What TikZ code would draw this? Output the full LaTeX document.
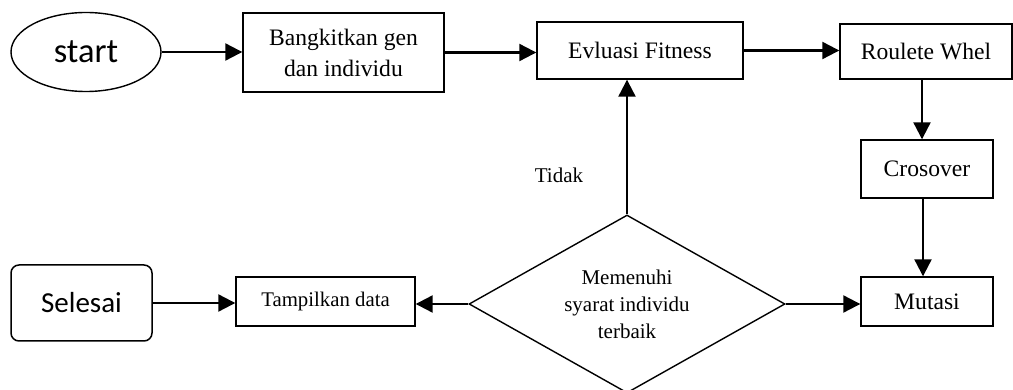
\documentclass[tikz,border=0pt]{standalone}
\usepackage{fontspec}
\setmainfont{Liberation Serif}
\newfontfamily\calibri{Carlito}
\usetikzlibrary{arrows.meta,shapes.geometric}

\tikzset{
  box/.style={draw, line width=1.4pt, rectangle, inner sep=0pt, align=center,
    font=\fontsize{23.6}{31}\selectfont},
  flow/.style={line width=2.2pt, -{Triangle[length=17pt,width=17pt]}},
}

\begin{document}
\begin{tikzpicture}[x=1pt,y=-1pt]
  \useasboundingbox (0,0) rectangle (1013,390);
  \clip (0,0) rectangle (1013,390);

  % terminals
  \node[draw, ellipse, line width=1.4pt, minimum width=150pt, minimum height=79pt,
        inner sep=0pt, font=\calibri\fontsize{34.5}{38}\selectfont] (start) at (86,52) {start};
  \node[draw, rectangle, rounded corners=8pt, line width=1.5pt, minimum width=141pt,
        minimum height=76pt, inner sep=0pt, font=\calibri\fontsize{29}{34}\selectfont]
        (sel) at (81.5,303) {Selesai};

  % process steps
  \node[box, minimum width=201pt, minimum height=79pt] (gen) at (343.5,52.5)
        {Bangkitkan gen\\dan individu};
  \node[box, minimum width=206pt, minimum height=57pt] (eval) at (640,50.5) {Evluasi Fitness};
  \node[box, minimum width=172pt, minimum height=55pt] (roul) at (926,51.5) {Roulete Whel};
  \node[box, minimum width=132pt, minimum height=58pt] (cros) at (927,169) {Crosover};
  \node[box, minimum width=132pt, minimum height=49pt] (mut) at (927,301.5) {Mutasi};
  \node[box, minimum width=179pt, minimum height=49pt, font=\fontsize{20.8}{26}\selectfont]
        (tamp) at (325.5,301.5) {Tampilkan data};

  % decision
  \node[draw, diamond, aspect=1.775, line width=1.4pt, inner sep=0pt,
        minimum width=316pt, minimum height=178pt, align=center,
        font=\fontsize{21}{27}\selectfont] (dec) at (627,304)
        {Memenuhi\\syarat individu\\terbaik};

  \node[font=\fontsize{21}{25}\selectfont] (tidak) at (559,175) {Tidak};

  % connectors
  \draw[flow] (start.east) -- (start.east -| gen.west);
  \draw[flow] (gen.east) -- (gen.east -| eval.west);
  \draw[flow] (eval.east) -- (eval.east -| roul.west);
  \draw[flow] ([xshift=-4pt]roul.south) -- ([xshift=-4pt]roul.south |- cros.north);
  \draw[flow] ([xshift=-4pt]cros.south) -- ([xshift=-4pt]cros.south |- mut.north);
  \draw[flow] (dec.east) -- (dec.east -| mut.west);
  \draw[flow] (dec.north) -- (dec.north |- eval.south);
  \draw[flow] (dec.west) -- (dec.west -| tamp.east);
  \draw[flow] (sel.east) -- (sel.east -| tamp.west);
\end{tikzpicture}
\end{document}
